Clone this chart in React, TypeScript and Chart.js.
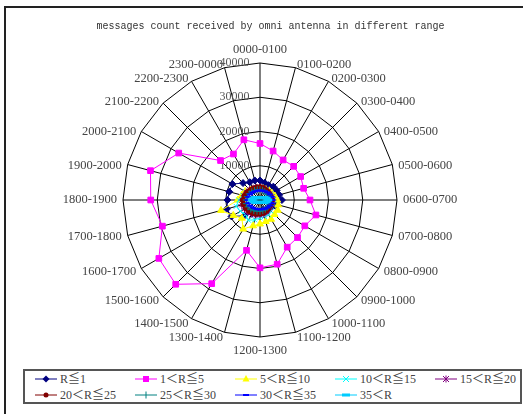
import React, { useEffect, useRef } from 'react';
import { Chart, registerables } from 'chart.js';

Chart.register(...registerables);

const categories = [
  '0000-0100', '0100-0200', '0200-0300', '0300-0400', '0400-0500', '0500-0600',
  '0600-0700', '0700-0800', '0800-0900', '0900-1000', '1000-1100', '1100-1200',
  '1200-1300', '1300-1400', '1400-1500', '1500-1600', '1600-1700', '1700-1800',
  '1800-1900', '1900-2000', '2000-2100', '2100-2200', '2200-2300', '2300-0000',
];

const seriesNames = ['R≦1', '1＜R≦5', '5＜R≦10', '10＜R≦15', '15＜R≦20', '20＜R≦25', '25＜R≦30', '30＜R≦35', '35＜R'];

const rLe1 = [5700, 5200, 5000, 5500, 5600, 5800, 6400, 5000, 4000, 3500, 3500, 3000, 3500, 3500, 4500, 6500, 9600, 10000, 9500, 9300, 9300, 7000, 6000, 5900];
const r1to5 = [16500, 14800, 13500, 13900, 13700, 13200, 14600, 16900, 15100, 15500, 15900, 19400, 19800, 15200, 28200, 34800, 34100, 29500, 31900, 33100, 27400, 16300, 15500, 18200];
const r5to10 = [3500, 3500, 3500, 3800, 4000, 4500, 5000, 5500, 6000, 6000, 6500, 6500, 7000, 7800, 9800, 7500, 9000, 11800, 6500, 5500, 5000, 4000, 3500, 3500];
const r10to15 = [3800, 3500, 3500, 3300, 3500, 3800, 4000, 3800, 4000, 4500, 5000, 5000, 5200, 6000, 6800, 6000, 6600, 7200, 6200, 5200, 4800, 4300, 4000, 3800];
const r15to20 = [3800, 3600, 3500, 3400, 3400, 3600, 3800, 3600, 3600, 3800, 4000, 4300, 4300, 4500, 4800, 5000, 5200, 5500, 5200, 4800, 4600, 4300, 4000, 3800];
const r20to25 = [3800, 3600, 3400, 3300, 3200, 3300, 3500, 3400, 3400, 3500, 3700, 3900, 4000, 4200, 4400, 4600, 4800, 5000, 5000, 4700, 4400, 4100, 3900, 3800];
const r25to30 = [3000, 2900, 2800, 2800, 2900, 3000, 3200, 3100, 3000, 3000, 3100, 3200, 3300, 3400, 3600, 3800, 4000, 4100, 4000, 3800, 3600, 3400, 3200, 3100];
const r30to35 = [2800, 2800, 2900, 3100, 3300, 3500, 3600, 3500, 3300, 3100, 2900, 2800, 2700, 2800, 2900, 3100, 3300, 3500, 3600, 3500, 3300, 3100, 2900, 2800];
const rGt35 = [700, 700, 800, 1000, 1500, 2000, 2400, 2000, 1500, 1000, 800, 700, 700, 700, 800, 1000, 1500, 2000, 2400, 2000, 1500, 1000, 800, 700];

const tickValues = [0, 10000, 20000, 30000, 40000];

const seriesData = [rLe1, r1to5, r5to10, r10to15, r15to20, r20to25, r25to30, r30to35, rGt35];

const colors = ['#000080', '#FF00FF', '#FFFF00', '#00FFFF', '#800080', '#800000', '#008080', '#0000FF', '#00CCFF'];
const pointStyles: any[] = ['rectRot', 'rect', 'triangle', 'crossRot', 'star', 'circle', 'cross', 'line', 'line'];
const pointRadii = [3.5, 4, 4, 3.5, 3.5, 2.5, 3.5, 3, 4];
const pointBorders = [1, 1, 1, 1, 1, 1, 1, 2, 3];

const SERIF = '"Liberation Serif", "Noto Sans CJK SC", serif';

function Marker({ idx }: { idx: number }) {
  const c = colors[idx];
  const cx = 11, cy = 5;
  let m: React.ReactNode = null;
  switch (idx) {
    case 0: m = <polygon points={`${cx},${cy - 3.5} ${cx + 3.5},${cy} ${cx},${cy + 3.5} ${cx - 3.5},${cy}`} fill={c} />; break;
    case 1: m = <rect x={cx - 3} y={cy - 3} width={6} height={6} fill={c} />; break;
    case 2: m = <polygon points={`${cx},${cy - 4} ${cx + 3.5},${cy + 2.5} ${cx - 3.5},${cy + 2.5}`} fill={c} />; break;
    case 3: m = <path d={`M${cx - 3} ${cy - 3}L${cx + 3} ${cy + 3}M${cx + 3} ${cy - 3}L${cx - 3} ${cy + 3}`} stroke={c} strokeWidth={1} />; break;
    case 4: m = <path d={`M${cx - 3} ${cy - 3}L${cx + 3} ${cy + 3}M${cx + 3} ${cy - 3}L${cx - 3} ${cy + 3}M${cx} ${cy - 3.5}L${cx} ${cy + 3.5}`} stroke={c} strokeWidth={1} />; break;
    case 5: m = <circle cx={cx} cy={cy} r={2.5} fill={c} />; break;
    case 6: m = <path d={`M${cx} ${cy - 3.5}L${cx} ${cy + 3.5}`} stroke={c} strokeWidth={1} />; break;
    case 7: m = <rect x={cx - 3} y={cy - 1} width={6} height={2} fill={c} />; break;
    case 8: m = <rect x={cx - 4} y={cy - 1.5} width={8} height={3} fill={c} />; break;
  }
  return (
    <svg width={22} height={10} style={{ position: 'absolute', left: 0, top: 0 }}>
      <line x1={0} y1={cy} x2={22} y2={cy} stroke={c} strokeWidth={1} />
      {m}
    </svg>
  );
}

export default function App() {
  const canvasRef = useRef<HTMLCanvasElement | null>(null);

  useEffect(() => {
    const canvas = canvasRef.current;
    if (!canvas) return;
    const n = seriesData.length;
    const chart = new Chart(canvas, {
      type: 'radar',
      data: {
        labels: categories,
        datasets: seriesData.map((d, i) => ({
          label: seriesNames[i],
          data: d,
          borderColor: colors[i],
          backgroundColor: colors[i],
          pointBackgroundColor: colors[i],
          pointBorderColor: colors[i],
          borderWidth: 1,
          pointRadius: pointRadii[i],
          pointBorderWidth: pointBorders[i],
          pointStyle: pointStyles[i],
          fill: false,
          tension: 0,
          order: n - 1 - i,
        })),
      },
      options: {
        responsive: false,
        animation: false,
        events: [],
        layout: { padding: { left: 18, right: 0, top: 0, bottom: 0 } },
        plugins: {
          legend: { display: false },
          tooltip: { enabled: false },
          title: {
            display: true,
            text: 'messages count received by omni antenna in different range',
            color: '#333',
            font: { family: '"Liberation Mono", monospace', size: 10, weight: 'normal' },
            padding: { top: 20, bottom: 0 },
          },
        },
        scales: {
          r: {
            min: tickValues[0],
            max: tickValues[tickValues.length - 1],
            beginAtZero: true,
            afterBuildTicks: (scale: any) => {
              scale.ticks = tickValues.map((v) => ({ value: v }));
            },
            beforeFit: (scale: any) => {
              scale.xCenter = 260;
              scale.yCenter = 200;
              scale.drawingArea = 137;
            },
            afterFit: (scale: any) => {
              const items = scale._pointLabelItems;
              if (!items) return;
              const cnt = items.length;
              items.forEach((it: any, i: number) => {
                const a = (i * 360) / cnt;
                if (a === 0 || a === 90 || a === 180 || a === 270) return;
                const h = it.bottom - it.top;
                const shift = a < 90 || a > 270 ? h / 2 + 3 : -h / 2;
                it.y += shift;
                it.top += shift;
                it.bottom += shift;
              });
            },
            grid: { color: '#000', lineWidth: 1, circular: false },
            angleLines: { color: '#000', lineWidth: 1 },
            ticks: {
              showLabelBackdrop: false,
              backdropPadding: 0,
              color: '#555',
              font: { family: SERIF, size: 12 },
              callback: (v: any) => (v === 0 ? '' : String(v) + ' '.repeat(17)),
            },
            pointLabels: {
              color: '#444',
              padding: 0,
              font: { family: SERIF, size: 12.5 },
            },
          },
        },
      } as any,
    });
    return () => chart.destroy();
  }, []);

  return (
    <div style={{ position: 'fixed', left: 0, top: 0, width: 523, height: 414, overflow: 'hidden', background: '#fff' }}>
      <div style={{ position: 'absolute', left: 4, top: 6, width: 600, height: 600, border: '2px solid #222', boxSizing: 'border-box' }} />
      <canvas ref={canvasRef} width={523} height={366} style={{ position: 'absolute', left: 0, top: 0, width: 523, height: 366 }} />
      <div style={{ position: 'absolute', left: 23, top: 369, width: 499, height: 35, border: '2px solid #555', boxSizing: 'border-box' }} />
      {seriesNames.map((name, i) => {
        const col = i % 5;
        const row = Math.floor(i / 5);
        return (
          <div key={name} style={{ position: 'absolute', left: 35 + 100 * col, top: 374 + 16 * row, height: 10, width: 100 }}>
            <Marker idx={i} />
            <span style={{ position: 'absolute', left: 25, top: -3, font: `12px ${SERIF}`, color: '#444', whiteSpace: 'nowrap', lineHeight: '16px' }}>{name}</span>
          </div>
        );
      })}
    </div>
  );
}
